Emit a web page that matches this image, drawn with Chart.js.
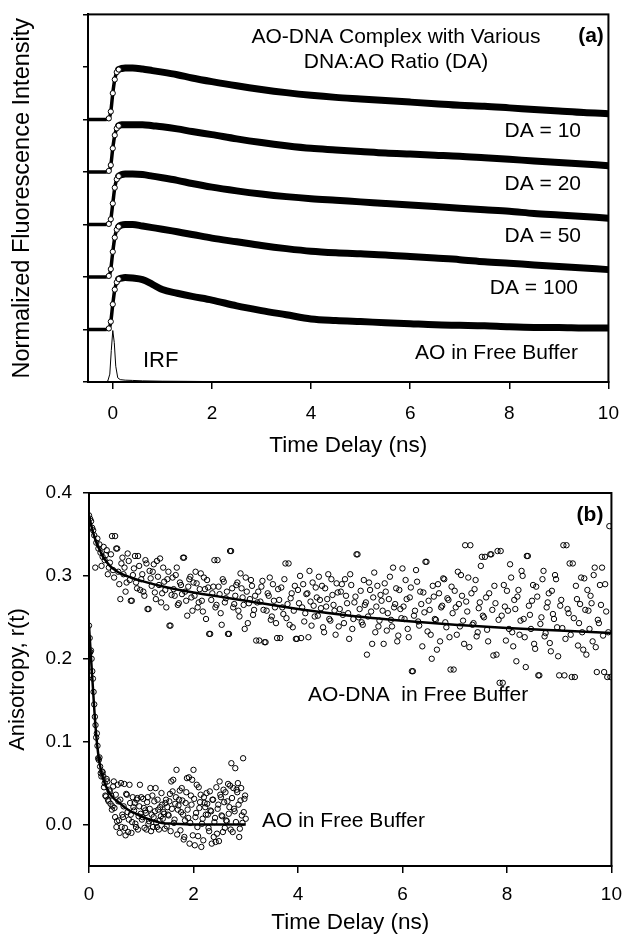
<!DOCTYPE html>
<html><head><meta charset="utf-8">
<script src="https://cdn.jsdelivr.net/npm/chart.js@4.4.0/dist/chart.umd.min.js"></script>
<style>
html,body{margin:0;padding:0;background:#fff;}
#wrap{position:relative;width:632px;height:936px;overflow:hidden;}
canvas{position:absolute;left:0;}
</style></head><body>
<div id="wrap">
<canvas id="ca" width="632" height="468" style="top:0"></canvas>
<canvas id="cb" width="632" height="468" style="top:468px"></canvas>
</div>
<script>
// ---------- Panel (a): normalized fluorescence decays (each trace offset by one unit) ----------
const decayTime = [-0.5,-0.3,-0.15,-0.08,-0.04,0,0.04,0.08,0.12,0.18,0.25,0.4,0.6,0.8,1.0,1.3,1.6,2.0,2.5,3.0,3.5,4.0,4.5,5.0,5.5,6.0,6.5,7.0,7.5,8.0,8.5,9.0,9.5,10];
const da10   = [0,0,0,0.02,0.15,0.5,0.76,0.9,0.95,0.97,0.98,0.98,0.96,0.93,0.9,0.85,0.79,0.72,0.64,0.57,0.51,0.46,0.42,0.39,0.36,0.33,0.30,0.27,0.25,0.22,0.19,0.16,0.13,0.11];
const da20   = [0,0,0,0.02,0.13,0.45,0.7,0.83,0.88,0.9,0.9,0.9,0.9,0.88,0.86,0.82,0.77,0.71,0.63,0.56,0.5,0.45,0.42,0.39,0.36,0.34,0.32,0.3,0.27,0.24,0.21,0.18,0.15,0.12];
const da50   = [0,0,0,0.01,0.1,0.4,0.7,0.86,0.92,0.95,0.96,0.96,0.95,0.92,0.89,0.84,0.78,0.71,0.64,0.58,0.53,0.49,0.46,0.43,0.40,0.37,0.34,0.31,0.28,0.25,0.21,0.18,0.15,0.12];
const da100  = [0,0,0,0.02,0.15,0.48,0.75,0.9,0.96,0.99,1.0,1.0,0.97,0.94,0.91,0.86,0.81,0.74,0.67,0.6,0.54,0.49,0.46,0.44,0.42,0.39,0.36,0.33,0.29,0.26,0.23,0.2,0.17,0.14];
const aoFree = [0,0,0,0.02,0.15,0.48,0.76,0.9,0.96,0.98,0.99,0.98,0.95,0.86,0.76,0.69,0.63,0.56,0.45,0.36,0.28,0.2,0.17,0.15,0.13,0.11,0.09,0.08,0.07,0.05,0.04,0.04,0.03,0.03];
const traceNames   = ['DA = 10','DA = 20','DA = 50','DA = 100','AO in Free Buffer'];
const traceOffsets = [5,4,3,2,1];
const irfTime  = [-0.5,-0.15,-0.1,-0.06,-0.03,0,0.03,0.06,0.1,0.15,0.25,0.4,0.6,1.0,1.5,2.0,3.0,10];
const irfValue = [0,0,0.02,0.15,0.6,0.98,0.75,0.3,0.08,0.045,0.035,0.03,0.022,0.015,0.012,0.008,0.006,0.006];
const xTicksA = [0,2,4,6,8,10];
const yTicksA = [0,1,2,3,4,5,6,7];

// ---------- Panel (b): anisotropy r(t) ----------
const dnaT = [0,0.04,0.08,0.12,0.16,0.2,0.24,0.28,0.32,0.36,
0.4,0.44,0.48,0.52,0.56,0.6,0.64,0.68,0.72,0.76,
0.8,0.84,0.88,0.92,0.96,1,1.04,1.08,1.12,1.16,
1.2,1.24,1.28,1.32,1.36,1.4,1.44,1.48,1.52,1.56,
1.6,1.64,1.68,1.72,1.76,1.8,1.84,1.88,1.92,1.96,
2,2.04,2.08,2.12,2.16,2.2,2.24,2.28,2.32,2.36,
2.4,2.44,2.48,2.52,2.56,2.6,2.64,2.68,2.72,2.76,
2.8,2.84,2.88,2.92,2.96,3,3.04,3.08,3.12,3.16,
3.2,3.24,3.28,3.32,3.36,3.4,3.44,3.48,3.52,3.56,
3.6,3.64,3.68,3.72,3.76,3.8,3.84,3.88,3.92,3.96,
4,4.04,4.08,4.12,4.16,4.2,4.24,4.28,4.32,4.36,
4.4,4.44,4.48,4.52,4.56,4.6,4.64,4.68,4.72,4.76,
4.8,4.84,4.88,4.92,4.96,5,5.04,5.08,5.12,5.16,
5.2,5.24,5.28,5.32,5.36,5.4,5.44,5.48,5.52,5.56,
5.6,5.64,5.68,5.72,5.76,5.8,5.84,5.88,5.92,5.96,
6,6.04,6.08,6.12,6.16,6.2,6.24,6.28,6.32,6.36,
6.4,6.44,6.48,6.52,6.56,6.6,6.64,6.68,6.72,6.76,
6.8,6.84,6.88,6.92,6.96,7,7.04,7.08,7.12,7.16,
7.2,7.24,7.28,7.32,7.36,7.4,7.44,7.48,7.52,7.56,
7.6,7.64,7.68,7.72,7.76,7.8,7.84,7.88,7.92,7.96,
8,8.04,8.08,8.12,8.16,8.2,8.24,8.28,8.32,8.36,
8.4,8.44,8.48,8.52,8.56,8.6,8.64,8.68,8.72,8.76,
8.8,8.84,8.88,8.92,8.96,9,9.04,9.08,9.12,9.16,
9.2,9.24,9.28,9.32,9.36,9.4,9.44,9.48,9.52,9.56,
9.6,9.64,9.68,9.72,9.76,9.8,9.84,9.88,9.92,9.96];
const dnaR = [0.373,0.366,0.355,0.31,0.345,0.338,0.312,0.335,0.325,0.302,
0.316,0.348,0.298,0.333,0.305,0.272,0.322,0.31,0.292,0.318,
0.27,0.301,0.324,0.285,0.312,0.296,0.281,0.319,0.26,0.306,
0.288,0.314,0.272,0.299,0.321,0.279,0.293,0.262,0.305,0.24,
0.298,0.276,0.31,0.267,0.289,0.322,0.281,0.252,0.296,0.274,
0.292,0.305,0.262,0.284,0.27,0.298,0.248,0.286,0.23,0.279,
0.319,0.265,0.287,0.255,0.296,0.268,0.281,0.23,0.33,0.262,
0.276,0.292,0.251,0.285,0.265,0.298,0.243,0.272,0.288,0.259,
0.222,0.281,0.269,0.294,0.22,0.258,0.276,0.247,0.29,0.262,
0.225,0.271,0.286,0.254,0.315,0.266,0.241,0.279,0.258,0.224,
0.283,0.3,0.262,0.245,0.278,0.226,0.269,0.292,0.251,0.274,
0.299,0.261,0.238,0.285,0.272,0.248,0.296,0.265,0.229,0.28,
0.26,0.29,0.243,0.276,0.255,0.302,0.236,0.268,0.326,0.25,
0.282,0.241,0.265,0.205,0.292,0.257,0.274,0.232,0.288,0.246,
0.27,0.218,0.281,0.255,0.299,0.239,0.262,0.285,0.228,0.26,
0.309,0.248,0.272,0.226,0.286,0.185,0.258,0.293,0.24,0.266,
0.28,0.317,0.233,0.259,0.2,0.275,0.247,0.29,0.221,0.264,
0.296,0.238,0.271,0.187,0.255,0.282,0.229,0.266,0.301,0.246,
0.337,0.257,0.214,0.279,0.243,0.295,0.232,0.268,0.323,0.25,
0.274,0.221,0.326,0.259,0.288,0.205,0.247,0.33,0.171,0.263,
0.282,0.236,0.298,0.215,0.26,0.275,0.229,0.306,0.248,0.19,
0.324,0.253,0.27,0.218,0.287,0.18,0.242,0.296,0.227,0.262,
0.279,0.209,0.254,0.301,0.238,0.18,0.271,0.337,0.224,0.26,
0.315,0.178,0.249,0.288,0.216,0.266,0.232,0.297,0.205,0.258,
0.276,0.221,0.31,0.184,0.243,0.265,0.228,0.29,0.178,0.36];
const dnaT2 = [0.02,0.06,0.1,0.14,0.18,0.22,0.26,0.3,0.34,0.38,
0.42,0.46,0.5,0.54,0.58,0.62,0.66,0.7,0.74,0.78,
0.82,0.86,0.9,0.94,0.98,1.02,1.06,1.1,1.14,1.18,
1.22,1.26,1.3,1.34,1.38,1.42,1.46,1.5,1.54,1.58,
1.62,1.66,1.7,1.74,1.78,1.82,1.86,1.9,1.94,1.98,
2.02,2.06,2.1,2.14,2.18,2.22,2.26,2.3,2.34,2.38,
2.42,2.46,2.5,2.54,2.58,2.62,2.66,2.7,2.74,2.78,
2.82,2.86,2.9,2.94,2.98,3.02,3.06,3.1,3.14,3.18,
3.22,3.26,3.3,3.34,3.38,3.42,3.46,3.5,3.54,3.58,
3.62,3.66,3.7,3.74,3.78,3.82,3.86,3.9,3.94,3.98,
4.02,4.06,4.1,4.14,4.18,4.22,4.26,4.3,4.34,4.38,
4.42,4.46,4.5,4.54,4.58,4.62,4.66,4.7,4.74,4.78,
4.82,4.86,4.9,4.94,4.98,5.02,5.06,5.1,5.14,5.18,
5.22,5.26,5.3,5.34,5.38,5.42,5.46,5.5,5.54,5.58,
5.62,5.66,5.7,5.74,5.78,5.82,5.86,5.9,5.94,5.98,
6.02,6.06,6.1,6.14,6.18,6.22,6.26,6.3,6.34,6.38,
6.42,6.46,6.5,6.54,6.58,6.62,6.66,6.7,6.74,6.78,
6.82,6.86,6.9,6.94,6.98,7.02,7.06,7.1,7.14,7.18,
7.22,7.26,7.3,7.34,7.38,7.42,7.46,7.5,7.54,7.58,
7.62,7.66,7.7,7.74,7.78,7.82,7.86,7.9,7.94,7.98,
8.02,8.06,8.1,8.14,8.18,8.22,8.26,8.3,8.34,8.38,
8.42,8.46,8.5,8.54,8.58,8.62,8.66,8.7,8.74,8.78,
8.82,8.86,8.9,8.94,8.98,9.02,9.06,9.1,9.14,9.18,
9.22,9.26,9.3,9.34,9.38,9.42,9.46,9.5,9.54,9.58,
9.62,9.66,9.7,9.74,9.78,9.82,9.86,9.9,9.94,9.98];
const dnaR2 = [0.369,0.358,0.349,0.34,0.333,0.328,0.323,0.319,0.331,0.31,
0.326,0.307,0.348,0.333,0.29,0.315,0.302,0.281,0.327,0.295,
0.27,0.309,0.292,0.324,0.283,0.302,0.276,0.315,0.26,0.297,
0.305,0.28,0.318,0.289,0.268,0.31,0.283,0.296,0.24,0.277,
0.284,0.301,0.265,0.292,0.278,0.322,0.27,0.287,0.299,0.258,
0.276,0.291,0.268,0.303,0.257,0.284,0.295,0.23,0.271,0.287,
0.262,0.319,0.278,0.241,0.293,0.273,0.23,0.33,0.285,0.266,
0.289,0.258,0.303,0.274,0.236,0.281,0.267,0.295,0.253,0.276,
0.268,0.222,0.287,0.259,0.22,0.279,0.298,0.251,0.27,0.243,
0.284,0.225,0.262,0.296,0.249,0.315,0.273,0.238,0.288,0.224,
0.267,0.225,0.29,0.255,0.279,0.306,0.24,0.264,0.286,0.252,
0.271,0.288,0.232,0.263,0.302,0.246,0.277,0.258,0.291,0.239,
0.281,0.253,0.296,0.267,0.224,0.289,0.248,0.275,0.326,0.26,
0.244,0.295,0.268,0.251,0.283,0.218,0.304,0.263,0.239,0.277,
0.258,0.291,0.234,0.272,0.247,0.31,0.266,0.221,0.283,0.249,
0.263,0.295,0.236,0.274,0.185,0.252,0.307,0.245,0.281,0.215,
0.256,0.317,0.27,0.229,0.288,0.248,0.211,0.279,0.262,0.297,
0.244,0.273,0.226,0.287,0.187,0.262,0.305,0.239,0.276,0.218,
0.269,0.298,0.337,0.241,0.284,0.227,0.261,0.312,0.252,0.323,
0.235,0.279,0.326,0.204,0.267,0.33,0.171,0.252,0.289,0.222,
0.258,0.314,0.232,0.271,0.197,0.283,0.246,0.3,0.226,0.324,
0.264,0.236,0.289,0.212,0.275,0.18,0.25,0.306,0.231,0.268,
0.219,0.282,0.248,0.296,0.203,0.264,0.237,0.18,0.337,0.255,
0.229,0.315,0.178,0.272,0.243,0.298,0.211,0.259,0.283,0.236,
0.267,0.301,0.214,0.247,0.289,0.31,0.184,0.257,0.232,0.178];
const dnaFitT = [0,0.04,0.08,0.12,0.16,0.2,0.25,0.3,0.4,0.5,0.6,0.8,1.0,1.5,2,2.5,3,4,5,6,7,8,9,10];
const dnaFitR = [0.372,0.362,0.352,0.344,0.337,0.332,0.325,0.32,0.312,0.307,0.303,0.298,0.294,0.286,0.28,0.275,0.27,0.26,0.252,0.246,0.241,0.237,0.234,0.231];

const aoT = [0,0.025,0.05,0.075,0.1,0.125,0.15,0.175,0.2,0.225,
0.25,0.275,0.3,0.325,0.35,0.375,0.4,0.425,0.45,0.475,
0.5,0.525,0.55,0.575,0.6,0.625,0.65,0.675,0.7,0.725,
0.75,0.775,0.8,0.825,0.85,0.875,0.9,0.925,0.95,0.975,
1,1.025,1.05,1.075,1.1,1.125,1.15,1.175,1.2,1.225,
1.25,1.275,1.3,1.325,1.35,1.375,1.4,1.425,1.45,1.475,
1.5,1.525,1.55,1.575,1.6,1.625,1.65,1.675,1.7,1.725,
1.75,1.775,1.8,1.825,1.85,1.875,1.9,1.925,1.95,1.975,
2,2.025,2.05,2.075,2.1,2.125,2.15,2.175,2.2,2.225,
2.25,2.275,2.3,2.325,2.35,2.375,2.4,2.425,2.45,2.475,
2.5,2.525,2.55,2.575,2.6,2.625,2.65,2.675,2.7,2.725,
2.75,2.775,2.8,2.825,2.85,2.875,2.9,2.925,2.95,2.975,
3];
const aoR = [0.24,0.208,0.2,0.176,0.145,0.12,0.11,0.08,0.081,0.062,
0.064,0.058,0.05,0.034,0.052,0.028,0.04,0.035,0.022,0.052,
0.009,-0.003,0.048,0.005,0.03,-0.003,0.009,0.049,-0.013,0.036,
-0.009,0.048,0.012,0.003,0.021,0.026,-0.003,0.032,0.01,0.048,
0.033,0.009,0.02,0.017,-0.006,0.033,0.004,0.044,0.012,-0.003,
0.028,0.044,-0.003,0.018,0.005,0.01,0.024,0.015,-0.005,0.03,
0.021,0.011,0.037,0.052,0.04,0.002,0.025,0.066,0.018,0.03,
-0.007,0.044,0.012,-0.015,0.026,0.056,0.008,-0.023,0.035,0.054,
0.066,-0.025,0.014,-0.003,0.045,0.027,-0.027,0.007,0.033,0.021,
0.038,0.012,-0.008,0.017,-0.023,0.03,0.003,-0.021,-0.011,0.024,
0.052,0.033,0.01,0.042,-0.004,0.005,0.028,0.013,0.047,0.074,
-0.009,0.019,0.068,0.042,0.05,-0.015,0.029,0.011,0.08,0.031,
0.007];
const aoT2 = [0.0125,0.0375,0.0625,0.0875,0.1125,0.1375,0.1625,0.1875,0.2125,0.2375,
0.2625,0.2875,0.3125,0.3375,0.3625,0.3875,0.4125,0.4375,0.4625,0.4875,
0.5125,0.5375,0.5625,0.5875,0.6125,0.6375,0.6625,0.6875,0.7125,0.7375,
0.7625,0.7875,0.8125,0.8375,0.8625,0.8875,0.9125,0.9375,0.9625,0.9875,
1.0125,1.0375,1.0625,1.0875,1.1125,1.1375,1.1625,1.1875,1.2125,1.2375,
1.2625,1.2875,1.3125,1.3375,1.3625,1.3875,1.4125,1.4375,1.4625,1.4875,
1.5125,1.5375,1.5625,1.5875,1.6125,1.6375,1.6625,1.6875,1.7125,1.7375,
1.7625,1.7875,1.8125,1.8375,1.8625,1.8875,1.9125,1.9375,1.9625,1.9875,
2.0125,2.0375,2.0625,2.0875,2.1125,2.1375,2.1625,2.1875,2.2125,2.2375,
2.2625,2.2875,2.3125,2.3375,2.3625,2.3875,2.4125,2.4375,2.4625,2.4875,
2.5125,2.5375,2.5625,2.5875,2.6125,2.6375,2.6625,2.6875,2.7125,2.7375,
2.7625,2.7875,2.8125,2.8375,2.8625,2.8875,2.9125,2.9375,2.9625,2.9875];
const aoR2 = [0.225,0.21,0.185,0.16,0.13,0.105,0.095,0.078,0.07,0.058,
0.063,0.045,0.035,0.055,0.03,0.042,0.025,0.018,0.046,0.02,
0.036,0.004,0.028,-0.01,0.05,0.012,0.022,-0.004,0.037,0.015,
0.006,0.026,-0.01,0.033,0.017,0.001,0.03,-0.006,0.022,0.013,
0.006,0.031,-0.004,0.014,0.027,0.001,0.019,-0.008,0.035,0.009,
0.016,0.002,0.03,-0.006,0.021,0.038,0.007,0.013,0.026,-0.002,
0.012,0.028,-0.008,0.019,0.054,0.006,0.033,-0.012,0.023,0.041,
0.015,0.029,-0.018,0.005,0.039,0.018,0.057,0.002,0.024,-0.013,
0.031,0.009,0.048,-0.014,0.02,0.036,0.001,-0.019,0.026,0.012,
0.025,-0.004,0.04,0.016,0.03,-0.015,0.008,0.045,0.019,-0.02,
0.036,0.011,-0.009,0.027,0.039,0.004,0.049,0.021,-0.006,0.032,
0.044,0.016,0.003,0.039,0.024,-0.005,0.044,0.002,0.015,0.035];
const aoFitT = [0,0.025,0.05,0.075,0.1,0.125,0.15,0.175,0.2,0.25,0.3,0.35,0.4,0.5,0.6,0.7,0.8,0.9,1.0,1.2,1.4,1.6,2.0,2.5,3.0];
const aoFitR = [0.24,0.215,0.19,0.165,0.14,0.118,0.1,0.086,0.075,0.06,0.05,0.043,0.037,0.03,0.025,0.02,0.016,0.013,0.01,0.005,0.002,0.001,0,0,0];
const xTicksB = [0,2,4,6,8,10];
const yTicksB = [0,0.1,0.2,0.3,0.4];

// ---------- styling / helpers ----------
const FONT = '"Liberation Sans", Arial, Helvetica, sans-serif';
Chart.defaults.font.family = FONT;
Chart.defaults.color = '#000';
Chart.defaults.animation = false;

const frameText = {
  id: 'frameText',
  afterDraw(chart, args, opts) {
    const {ctx, chartArea: a} = chart;
    ctx.save();
    ctx.strokeStyle = '#000';
    ctx.lineWidth = 2;
    ctx.strokeRect(a.left, a.top, a.right - a.left, a.bottom - a.top);
    ctx.fillStyle = '#000';
    ctx.textBaseline = 'middle';
    (opts.labels || []).forEach(l => {
      ctx.font = (l.bold ? 'bold ' : '') + l.size + 'px ' + FONT;
      ctx.textAlign = l.align;
      ctx.fillText(l.text, l.x, l.y);
    });
    ctx.restore();
  }
};

const pairs = (xs, ys, off) => xs.map((x, i) => ({x: x, y: ys[i] + (off || 0)}));
const tickGrid = len => ({display: true, drawOnChartArea: false, drawTicks: true, tickLength: len, color: '#000', lineWidth: 1.5});
const border = {display: true, color: '#000', width: 2};

// ---------- chart (a) ----------
const traces = [da10, da20, da50, da100, aoFree];
const dsA = traces.map((arr, k) => ({
  label: traceNames[k],
  data: pairs(decayTime, arr, traceOffsets[k]),
  borderColor: '#000',
  backgroundColor: '#fff',
  borderWidth: 3.5,
  borderCapStyle: 'round',
  borderJoinStyle: 'round',
  cubicInterpolationMode: 'monotone',
  segment: { borderWidth: c => (c.p0.parsed.x >= 0.1 ? 7 : 3.5) },
  pointRadius: c => (c.raw && c.raw.x > -0.1 && c.raw.x < 0.15 ? 2.6 : 0),
  pointBorderWidth: 1,
  pointBorderColor: '#000',
  pointBackgroundColor: '#fff'
}));
dsA.push({
  label: 'IRF',
  data: pairs(irfTime, irfValue, 0),
  borderColor: '#000',
  borderWidth: 1,
  pointRadius: 0,
  tension: 0
});

new Chart(document.getElementById('ca'), {
  type: 'line',
  data: { datasets: dsA },
  options: {
    responsive: false,
    animation: false,
    layout: { padding: { top: 13, right: 12, bottom: 0, left: 0 } },
    plugins: {
      legend: { display: false },
      tooltip: { enabled: false },
      frameText: { labels: [
        { text: 'AO-DNA Complex with Various', x: 396, y: 37, align: 'center', size: 21 },
        { text: 'DNA:AO Ratio (DA)', x: 396, y: 62, align: 'center', size: 21 },
        { text: '(a)', x: 591, y: 36, align: 'center', size: 21, bold: true },
        { text: 'DA = 10', x: 581, y: 131, align: 'right', size: 21 },
        { text: 'DA = 20', x: 581, y: 184, align: 'right', size: 21 },
        { text: 'DA = 50', x: 581, y: 236, align: 'right', size: 21 },
        { text: 'DA = 100', x: 578, y: 288, align: 'right', size: 21 },
        { text: 'AO in Free Buffer', x: 578, y: 353, align: 'right', size: 21 },
        { text: 'IRF', x: 143, y: 361, align: 'left', size: 22 }
      ] }
    },
    scales: {
      x: {
        type: 'linear', min: -0.5, max: 10,
        afterBuildTicks: s => { s.ticks = xTicksA.map(v => ({ value: v })); },
        afterFit: s => { s.height = 86; },
        grid: tickGrid(7), border: border,
        ticks: { font: { size: 19 }, padding: 13, maxRotation: 0 },
        title: { display: true, text: 'Time Delay (ns)', font: { size: 22.5 }, padding: { top: 0, bottom: 9 } }
      },
      y: {
        type: 'linear', min: 0, max: 7,
        afterBuildTicks: s => { s.ticks = yTicksA.map(v => ({ value: v })); },
        afterFit: s => { s.width = 88; },
        grid: tickGrid(5), border: border,
        ticks: { callback: () => '', font: { size: 19 } },
        title: { display: true, text: 'Normalized Fluorescence Intensity', font: { size: 23.5 }, padding: { top: 8, bottom: 0 } }
      }
    }
  },
  plugins: [frameText]
});

// ---------- chart (b) ----------
const scatterStyle = {
  type: 'scatter', showLine: false,
  pointStyle: 'circle', pointRadius: 2.7, pointBorderWidth: 1,
  pointBorderColor: '#000', pointBackgroundColor: 'rgba(0,0,0,0)', order: 2
};
const fitStyle = {
  type: 'line', borderColor: '#000', borderWidth: 2.5, pointRadius: 0,
  cubicInterpolationMode: 'monotone', order: 0
};
new Chart(document.getElementById('cb'), {
  type: 'scatter',
  data: { datasets: [
    Object.assign({ label: 'AO-DNA fit', data: pairs(dnaFitT, dnaFitR) }, fitStyle),
    Object.assign({ label: 'AO fit', data: pairs(aoFitT, aoFitR) }, fitStyle),
    Object.assign({ label: 'AO-DNA in Free Buffer', data: pairs(dnaT, dnaR).concat(pairs(dnaT2, dnaR2)) }, scatterStyle),
    Object.assign({ label: 'AO in Free Buffer', data: pairs(aoT, aoR).concat(pairs(aoT2, aoR2)) }, scatterStyle)
  ] },
  options: {
    responsive: false,
    animation: false,
    layout: { padding: { top: 25, right: 13, bottom: 0, left: 0 } },
    plugins: {
      legend: { display: false },
      tooltip: { enabled: false },
      frameText: { labels: [
        { text: '(b)', x: 590, y: 47, align: 'center', size: 21, bold: true },
        { text: 'AO-DNA  in Free Buffer', x: 308, y: 227, align: 'left', size: 21 },
        { text: 'AO in Free Buffer', x: 262, y: 353, align: 'left', size: 21 }
      ] }
    },
    scales: {
      x: {
        type: 'linear', min: 0, max: 10,
        afterBuildTicks: s => { s.ticks = xTicksB.map(v => ({ value: v })); },
        afterFit: s => { s.height = 70; },
        grid: tickGrid(7), border: border,
        ticks: { font: { size: 19 }, padding: 10, maxRotation: 0 },
        title: { display: true, text: 'Time Delay (ns)', font: { size: 22.5 }, padding: { top: 0, bottom: 0 } }
      },
      y: {
        type: 'linear', min: -0.05, max: 0.4,
        afterBuildTicks: s => { s.ticks = yTicksB.map(v => ({ value: v })); },
        afterFit: s => { s.width = 89; },
        grid: tickGrid(6), border: border,
        ticks: { font: { size: 19 }, padding: 11, callback: v => Number(v).toFixed(1) },
        title: { display: true, text: 'Anisotropy, r(t)', font: { size: 22 }, padding: { top: 5, bottom: 0 } }
      }
    }
  },
  plugins: [frameText]
});
</script>
</body></html>
